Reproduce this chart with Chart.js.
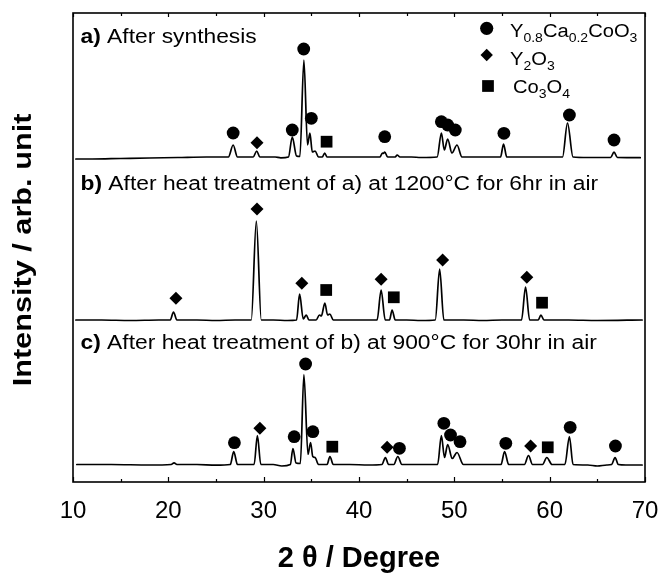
<!DOCTYPE html>
<html>
<head>
<meta charset="utf-8">
<script src="https://cdn.jsdelivr.net/npm/chart.js@4/dist/chart.umd.min.js"></script>
<style>
  html, body { margin: 0; padding: 0; background: #fff; }
  #plot { display: block; }
</style>
</head>
<body>
<canvas id="plot" width="662" height="573"></canvas>
<script>
// ---- XRD patterns: [2θ (deg), intensity above the pattern's own baseline] ----
const traceA = [
  [10.3,-2],[12,-2],[15,-1.5],[18,-1],[21,-0.5],[24,0],[26.3,0],[26.8,12],[27.25,0],
  [28.9,0],[29.27,6],[29.6,0],[31.2,0],[31.8,-0.8],[32.6,0],[33.0,20],[33.45,1],
  [33.8,0.5],[34.22,97],[34.6,12],[34.85,24],[35.1,5],[35.4,6],[35.75,0],[36.15,0],
  [36.4,4],[36.65,0],[38,0],[40,0],[42.2,0],[42.45,4],[42.55,3.5],[42.7,5],[43.0,0],
  [43.8,0],[44.0,2],[44.3,0],[45.5,0],[46.5,-0.5],[48.2,0],[48.64,24],[48.95,7],
  [49.3,18],[49.75,4],[50.28,12],[50.8,0],[52,0],[54.85,0],[55.16,13],[55.5,0],
  [58,0],[61.35,0],[61.87,34],[62.45,0],[64,-0.5],[66.4,-0.5],[66.75,5],[67.1,-0.5],
  [69.5,-0.7]
];
const traceB = [
  [10.3,0],[13,0],[16,-0.5],[19,0],[20.2,0],[20.54,8],[20.9,0],[23,0],[25,-0.5],
  [27,0],[28.7,0],[29.23,99],[29.75,0],[31,0],[32.5,-0.5],[33.45,0],[33.77,26],
  [34.15,1],[34.47,5],[34.75,0],[35.5,0],[35.85,5],[36.05,4],[36.42,17],[36.7,5],
  [36.95,6],[37.3,0],[39,0],[41.9,0],[42.32,30],[42.75,0],[43.2,0],[43.47,10],
  [43.8,0],[45,0],[46.5,-0.5],[48.0,0],[48.46,51],[48.9,0],[51,0],[53,-0.5],[55,0],
  [57.05,0],[57.47,33],[57.9,0],[58.8,0],[59.08,5],[59.4,0],[62,0],[65,-0.5],[69.7,0]
];
const traceC = [
  [10.4,0],[14,0],[18,-0.5],[20.3,0],[20.6,1.7],[20.9,0],[23,0],[25,-0.7],[26.5,0],
  [26.86,13],[27.25,0],[29.0,0],[29.34,29],[29.7,0],[31,0],[31.9,-1.5],[32.8,0],
  [33.07,16],[33.4,1.5],[33.85,1],[34.22,90],[34.65,10],[34.92,22],[35.15,8],
  [35.4,7],[35.75,0],[36.65,0],[36.95,8],[37.3,0],[39,0],[41,-0.5],[42.4,0],
  [42.77,7],[43.1,0],[43.65,0],[44.07,8],[44.5,0],[46,0],[48.25,0],[48.64,29],
  [48.97,7],[49.3,20],[49.78,6],[50.28,12],[50.95,0],[53,0],[54.9,0],[55.27,13],
  [55.7,0],[57.35,0],[57.78,9],[58.2,0],[59.25,0],[59.7,7],[60.25,0],[61.6,0],
  [62.07,28],[62.45,0],[64,-0.5],[65,-1.5],[66,-0.5],[66.5,0],[66.86,7],[67.2,0],
  [68,-0.5],[69.7,-0.5]
];

// ---- phase reflections marked above each pattern: [2θ, marker height above baseline] ----
const aPerovskite = [[26.8,24],[33.0,27],[34.2,108],[35.0,38.7],[42.7,20.3],[48.64,35.3],
                     [49.3,32],[50.1,27],[55.2,23.7],[62.07,42],[66.75,17]];
const aY2O3       = [[29.3,14.3]];
const aCo3O4      = [[36.6,15.3]];
const bPerovskite = [];
const bY2O3       = [[20.8,21.7],[29.3,111],[34.0,36.7],[42.32,40.7],[48.77,60],[57.6,42.7]];
const bCo3O4      = [[36.56,30],[43.65,22.7],[59.2,17.3]];
const cPerovskite = [[26.93,21.8],[33.2,27.8],[34.4,100.5],[35.16,32.8],[44.24,16.2],[48.9,41.2],
                     [49.6,29.5],[50.6,22.8],[55.4,21.2],[62.15,37.2],[66.9,18.5]];
const cY2O3       = [[29.6,36.2],[42.95,17.2],[58.0,18.5]];
const cCo3O4      = [[37.2,17.8],[59.8,17.2]];

// ---- axis ticks and texts ----
const xTickValues = [10, 20, 30, 40, 50, 60, 70];
const xMinorValues = [15, 25, 35, 45, 55, 65];
const xTitle = '2 θ / Degree';
const yTitle = 'Intensity / arb. unit';
const panelTags = ['a)', 'b)', 'c)'];
const panelTexts = [
  ' After synthesis',
  ' After heat treatment of a) at 1200°C for 6hr in air',
  ' After heat treatment of b) at 900°C for 30hr in air'
];
// legend entries as runs of [text, isSubscript]
const legendPerovskite = [['Y',0],['0.8',1],['Ca',0],['0.2',1],['CoO',0],['3',1]];
const legendY2O3 = [['Y',0],['2',1],['O',0],['3',1]];
const legendCo3O4 = [['Co',0],['3',1],['O',0],['4',1]];

// ---- layout of the stacked patterns (vertical offsets in axis units) ----
const offsetA = 325, offsetB = 162, offsetC = 17.5;
const FAMILY = "'Liberation Sans', Arial, Helvetica, sans-serif";

const toPoints = (arr, off) => arr.map(([x, y]) => ({ x: x, y: y + off }));

const traceStyle = {
  borderColor: '#000', borderWidth: 1.7, pointRadius: 0, fill: false,
  cubicInterpolationMode: 'monotone', borderJoinStyle: 'round', borderCapStyle: 'round'
};
const markStyle = {
  circle:  { pointStyle: 'circle',  pointRadius: 6.4 },
  rectRot: { pointStyle: 'rectRot', pointRadius: 6.5 },
  rect:    { pointStyle: 'rect',    pointRadius: 8.3 }
};
const markSet = (arr, off, style) => Object.assign({
  data: toPoints(arr, off), showLine: false, backgroundColor: '#000',
  borderColor: '#000', borderWidth: 0, pointHoverRadius: 0
}, markStyle[style]);

const datasets = [
  Object.assign({ data: toPoints(traceA, offsetA) }, traceStyle),
  Object.assign({ data: toPoints(traceB, offsetB) }, traceStyle),
  Object.assign({ data: toPoints(traceC, offsetC) }, traceStyle),
  markSet(aPerovskite, offsetA, 'circle'),
  markSet(aY2O3, offsetA, 'rectRot'),
  markSet(aCo3O4, offsetA, 'rect'),
  markSet(bPerovskite, offsetB, 'circle'),
  markSet(bY2O3, offsetB, 'rectRot'),
  markSet(bCo3O4, offsetB, 'rect'),
  markSet(cPerovskite, offsetC, 'circle'),
  markSet(cY2O3, offsetC, 'rectRot'),
  markSet(cCo3O4, offsetC, 'rect')
];

// frame around the plot plus inward-pointing ticks on the top and bottom edges
const framePlugin = {
  id: 'frame',
  afterDatasetsDraw(chart) {
    const { ctx, chartArea: a, scales: { x } } = chart;
    ctx.save();
    ctx.strokeStyle = '#000';
    ctx.lineWidth = 1.6;
    ctx.strokeRect(a.left, a.top, a.right - a.left, a.bottom - a.top);
    ctx.lineWidth = 1.2;
    ctx.beginPath();
    const tick = (v, lenB, lenT) => {
      const px = Math.round(x.getPixelForValue(v)) + 0.5;
      ctx.moveTo(px, a.bottom); ctx.lineTo(px, a.bottom - lenB);
      ctx.moveTo(px, a.top); ctx.lineTo(px, a.top + lenT);
    };
    xTickValues.forEach(v => tick(v, 5, 4));
    xMinorValues.forEach(v => tick(v, 3, 3));
    ctx.stroke();
    ctx.restore();
  }
};

function drawRuns(ctx, x, y, runs, sx) {
  ctx.save();
  ctx.translate(x, y);
  ctx.scale(sx, 1);
  let cx = 0;
  for (const r of runs) {
    ctx.font = r.font;
    ctx.fillText(r.t, cx, r.dy || 0);
    cx += ctx.measureText(r.t).width;
  }
  ctx.restore();
}

function drawMarker(ctx, style, x, y, r) {
  ctx.beginPath();
  if (style === 'circle') {
    ctx.arc(x, y, r, 0, Math.PI * 2);
  } else if (style === 'rectRot') {
    ctx.moveTo(x, y - r); ctx.lineTo(x + r, y); ctx.lineTo(x, y + r); ctx.lineTo(x - r, y);
    ctx.closePath();
  } else {
    const h = r * Math.SQRT1_2;
    ctx.rect(x - h, y - h, 2 * h, 2 * h);
  }
  ctx.fill();
}

// panel captions, legend and the rotated intensity title
const textPlugin = {
  id: 'texts',
  afterDraw(chart) {
    const ctx = chart.ctx;
    ctx.save();
    ctx.fillStyle = '#000';
    ctx.textBaseline = 'alphabetic';
    ctx.textAlign = 'left';

    const bold = `bold 19.5px ${FAMILY}`, reg = `19.5px ${FAMILY}`;
    const captionBaselines = [43.3, 190, 348.5];
    panelTags.forEach((tag, i) => {
      drawRuns(ctx, 80.5, captionBaselines[i],
        [{ t: tag, font: bold }, { t: panelTexts[i], font: reg }], 1.17);
    });

    const legendRows = [
      { runs: legendPerovskite, style: 'circle',  mx: 486.7, my: 28.3, r: 6.6, tx: 510, ty: 36.7 },
      { runs: legendY2O3,       style: 'rectRot', mx: 486.7, my: 55,   r: 6.2, tx: 510, ty: 65 },
      { runs: legendCo3O4,      style: 'rect',    mx: 488,   my: 86,   r: 8.3, tx: 513, ty: 93.3 }
    ];
    for (const row of legendRows) {
      drawMarker(ctx, row.style, row.mx, row.my, row.r);
      drawRuns(ctx, row.tx, row.ty, row.runs.map(([t, sub]) => ({
        t, font: sub ? `12.5px ${FAMILY}` : `18px ${FAMILY}`, dy: sub ? 5 : 0
      })), 1.12);
    }

    ctx.translate(24, 250);
    ctx.rotate(-Math.PI / 2);
    ctx.scale(1.18, 1);
    ctx.textAlign = 'center';
    ctx.textBaseline = 'middle';
    ctx.font = `bold 26px ${FAMILY}`;
    ctx.fillText(yTitle, 0, 0);
    ctx.restore();
  }
};

new Chart(document.getElementById('plot'), {
  type: 'line',
  data: { datasets },
  options: {
    responsive: false,
    animation: false,
    devicePixelRatio: 1,
    events: [],
    layout: { padding: { left: 0, right: 17, top: 13, bottom: 0 } },
    plugins: { legend: { display: false }, tooltip: { enabled: false } },
    scales: {
      x: {
        type: 'linear', min: 10, max: 70,
        afterFit: s => { s.height = 91; s.paddingLeft = 0; s.paddingRight = 0; },
        afterBuildTicks: s => { s.ticks = xTickValues.map(v => ({ value: v })); },
        ticks: { padding: 15, color: '#000', maxRotation: 0, autoSkip: false,
                 font: { family: FAMILY, size: 24 } },
        grid: { display: false, drawTicks: false },
        border: { display: false },
        title: { display: true, text: xTitle, color: '#000', padding: 0,
                 font: { family: FAMILY, size: 29, weight: 'bold', lineHeight: 1 } }
      },
      y: {
        type: 'linear', min: 0, max: 469,
        afterFit: s => { s.width = 73; },
        ticks: { display: false },
        grid: { display: false, drawTicks: false },
        border: { display: false }
      }
    }
  },
  plugins: [framePlugin, textPlugin]
});
</script>
</body>
</html>
